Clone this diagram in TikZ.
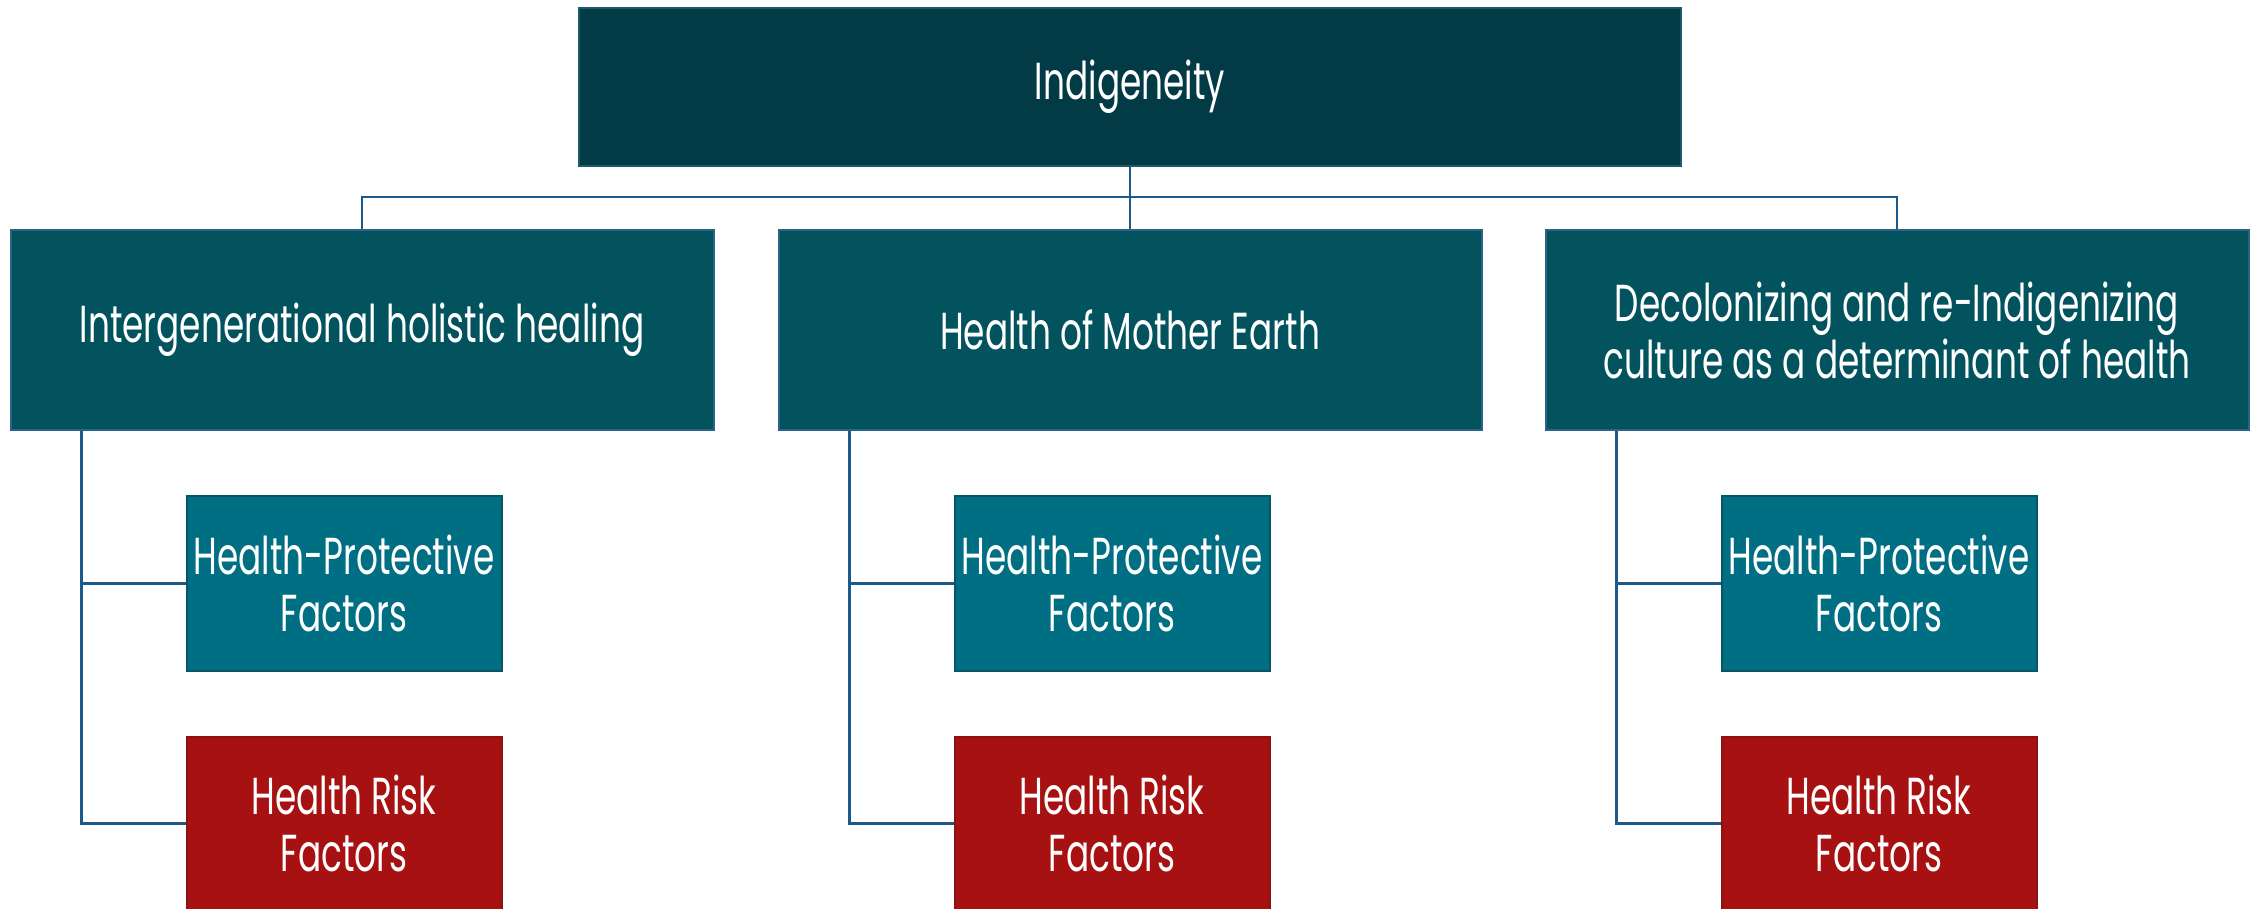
\documentclass[tikz,border=0pt]{standalone}
\usepackage{fontspec}
\setmainfont{Poppins}[FakeStretch=0.66]
\definecolor{topfill}{HTML}{023A46}
\definecolor{topline}{HTML}{1B5A68}
\definecolor{midfill}{HTML}{03535F}
\definecolor{midline}{HTML}{2B6486}
\definecolor{protfill}{HTML}{016F83}
\definecolor{protline}{HTML}{0A5565}
\definecolor{riskfill}{HTML}{A81111}
\definecolor{riskline}{HTML}{8A1212}
\definecolor{conn}{HTML}{1D5A8A}
\tikzset{
  basebox/.style={rectangle, inner sep=0pt, align=center, text=white,
    font=\fontsize{52}{57}\selectfont, line width=2pt},
  topbox/.style={basebox, fill=topfill, draw=topline, minimum width=1102pt, minimum height=158pt},
  midbox/.style={basebox, fill=midfill, draw=midline, minimum width=703pt, minimum height=200pt},
  protbox/.style={basebox, fill=protfill, draw=protline, minimum width=315pt, minimum height=175pt},
  riskbox/.style={basebox, fill=riskfill, draw=riskline, minimum width=315pt, minimum height=173pt},
  connector/.style={draw=conn, line width=2.4pt}
}
\begin{document}
\begin{tikzpicture}[x=1pt,y=-1pt]
\useasboundingbox (0,0) rectangle (2257,909);
\clip (0,0) rectangle (2257,909);
\node[topbox] (top) at (1130,87) {Indigeneity};
\node[midbox] (m1) at (362,330) {Intergenerational holistic healing};
\node[midbox] (m2) at (1130,330) {Health of Mother Earth};
\node[midbox] (m3) at (1897,330) {Decolonizing and re-Indigenizing\\culture as a determinant of health};
\foreach \i/\cx in {1/344,2/1112,3/1879}{
  \node[protbox] (p\i) at (\cx,583.5) {Health-Protective\\Factors};
  \node[riskbox] (r\i) at (\cx,823.5) {Health Risk\\Factors};
}
\coordinate (bus) at (1130,197);
\begin{scope}[on background layer/.try]
\end{scope}
\draw[connector] (top.south) -- (m2.north);
\draw[connector] (m1.north) |- (bus) -| (m3.north);
\foreach \i in {1,2,3}{
  \coordinate (s\i) at ([xshift=72pt]m\i.south west);
  \draw[connector] (s\i) |- (p\i.west);
  \draw[connector] (s\i) |- (r\i.west);
}
\end{tikzpicture}
\end{document}
